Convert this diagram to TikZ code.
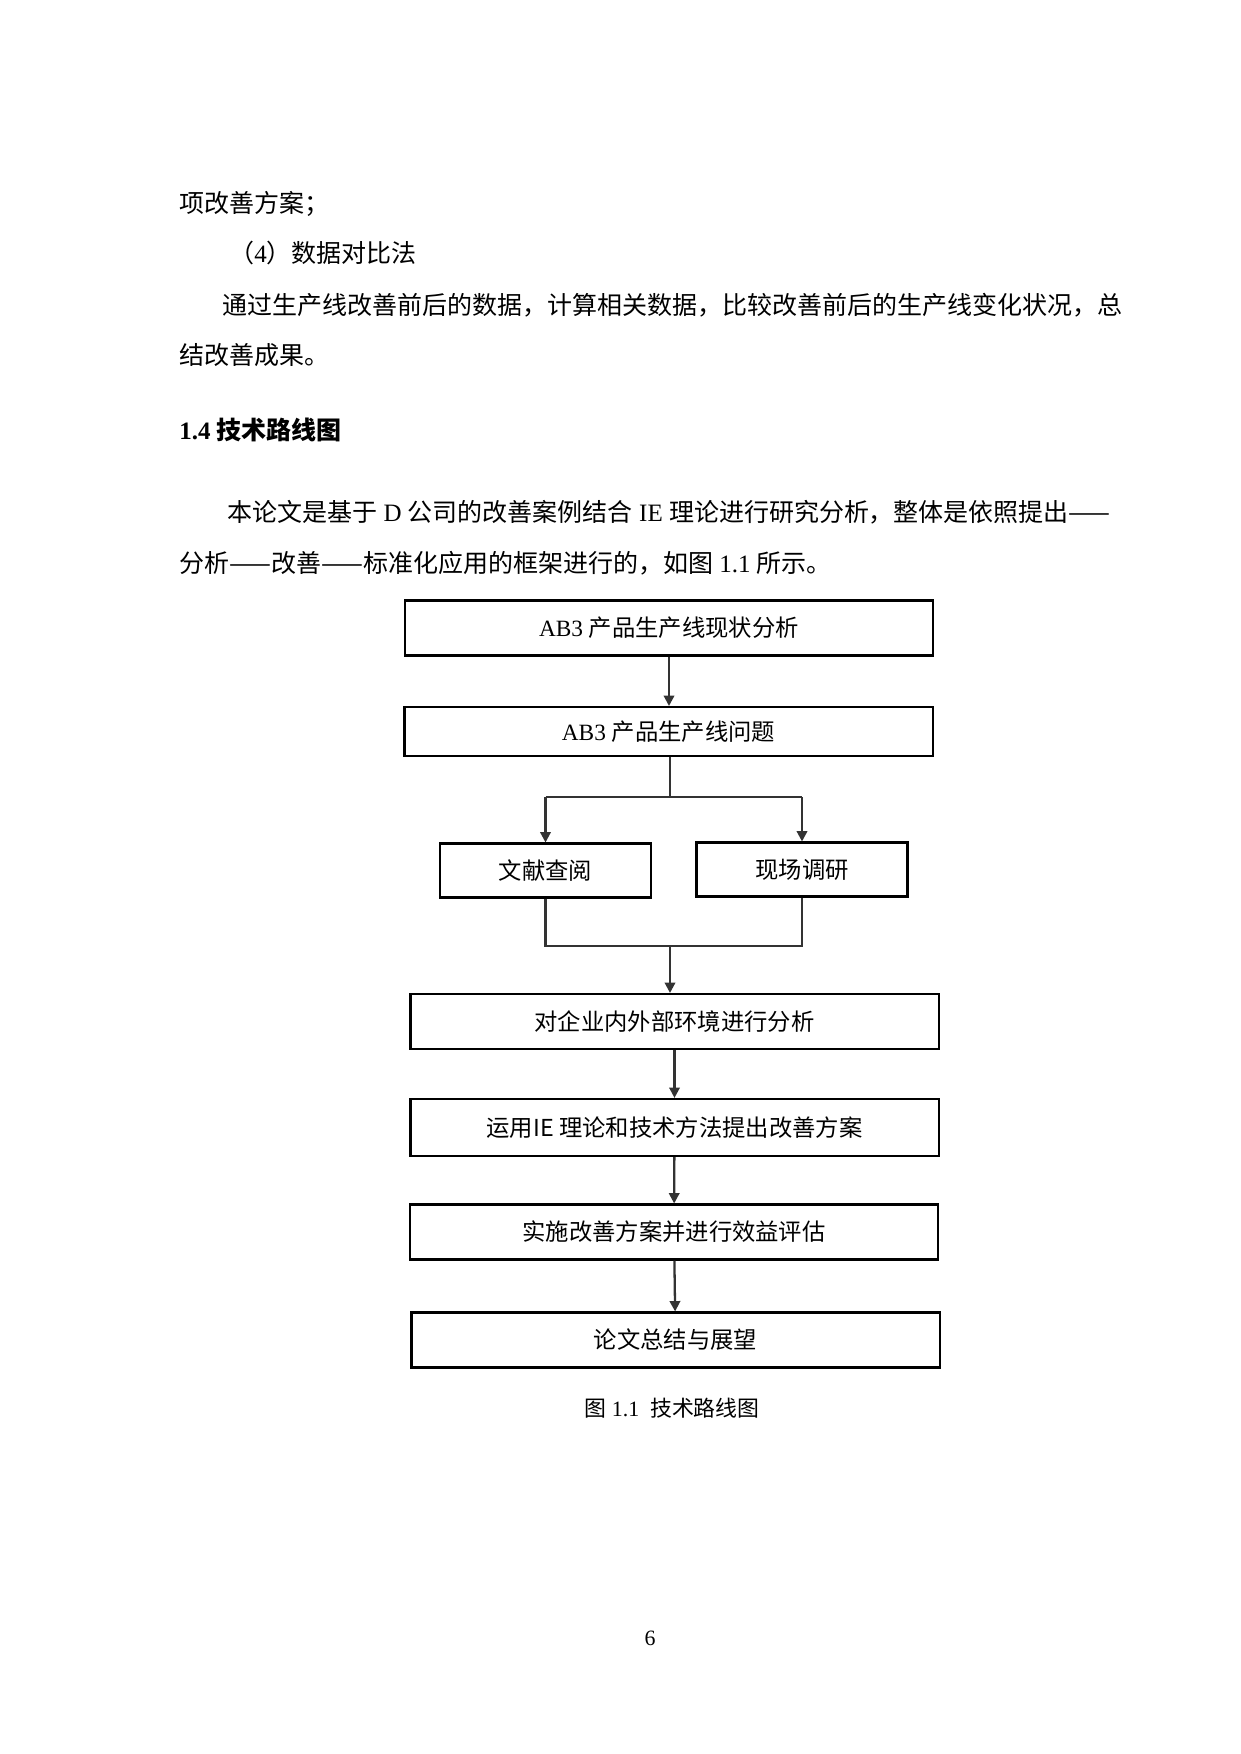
\documentclass[tikz,border=0pt]{standalone}
\usepackage{fontspec}
\setmainfont{Liberation Serif}
\newfontfamily\cjk{Noto Sans CJK SC}
\usetikzlibrary{arrows.meta}

\tikzset{
  box/.style={draw, line width=1pt, inner sep=0pt, minimum width=253.5pt, minimum height=26.4pt,
    font=\fontsize{11.2pt}{13pt}\selectfont},
  smallbox/.style={box, minimum width=101.3pt, minimum height=25.9pt},
  line/.style={draw=black!80, line width=1.1pt},
  link/.style={line, -{Triangle[length=5pt,width=5pt]}},
  body/.style={anchor=base west, inner sep=0pt, font=\fontsize{12pt}{14pt}\selectfont}
}

\begin{document}
\begin{tikzpicture}[x=0.48006pt, y=-0.48006pt]
%page
\useasboundingbox (0,0) rectangle (1240,1754);

%text above the figure
\node[body] (t1) at (179,212.5) {\cjk 项改善方案；};
\node[body] (t2) at (229,262.5) {{\cjk （}4{\cjk ）数据对比法}};
\node[body] (t3) at (222,314.5) {\cjk 通过生产线改善前后的数据，计算相关数据，比较改善前后的生产线变化状况，总};
\node[body] (t4) at (179,364.5) {\cjk 结改善成果。};
\node[body] (t5) at (179,439.5) {\bfseries 1.4 {\cjk\bfseries 技术路线图}};
\node[body] (t6) at (227,521.5) {{\cjk 本论文是基于} D {\cjk 公司的改善案例结合} IE {\cjk 理论进行研究分析，整体是依照提出——}};
\node[body] (t7) at (179,572.5) {{\cjk 分析——改善——标准化应用的框架进行的，如图} 1.1 {\cjk 所示。}};

%boxes
\node[box] (ana) at (669,628) {AB3 {\cjk 产品生产线现状分析}};
\node[box, minimum height=23.5pt] (prob) at (668.5,731.5) {AB3 {\cjk 产品生产线问题}};
\node[smallbox] (lit) at (545.5,870.5) {\cjk 文献查阅};
\node[smallbox] (site) at (802,869.5) {\cjk 现场调研};
\node[box] (env) at (674.5,1021.5) {\cjk 对企业内外部环境进行分析};
\node[box, minimum height=27.4pt] (ie) at (674.5,1127.5) {\cjk 运用IE 理论和技术方法提出改善方案};
\node[box] (impl) at (674,1232) {\cjk 实施改善方案并进行效益评估};
\node[box] (sum) at (675.5,1340) {\cjk 论文总结与展望};

%arrows
\draw[link] (ana.south) -- (ana.south |- prob.north);
\coordinate (split) at (670,797);
\draw[line] (prob.south -| split) -- (split);
\draw[line] (split -| lit) -- (split -| site);
\draw[link] (split -| lit) -- (lit.north);
\draw[link] (split -| site) -- (site.north);
\coordinate (join) at (670,946);
\draw[line] (lit.south) -- (lit.south |- join) -- (site.south |- join) -- (site.south);
\draw[link] (join) -- (join |- env.north);
\draw[link] (env) -- (ie);
\draw[link] (ie) -- (impl);
\draw[link] (impl) -- (sum);

%caption and page number
\node[font=\fontsize{10.5pt}{12pt}\selectfont] (cap) at (672,1408) {{\cjk 图} 1.1\ \ {\cjk 技术路线图}};
\node[font=\fontsize{10.5pt}{12pt}\selectfont] (page) at (650,1638) {6};
\end{tikzpicture}
\end{document}
